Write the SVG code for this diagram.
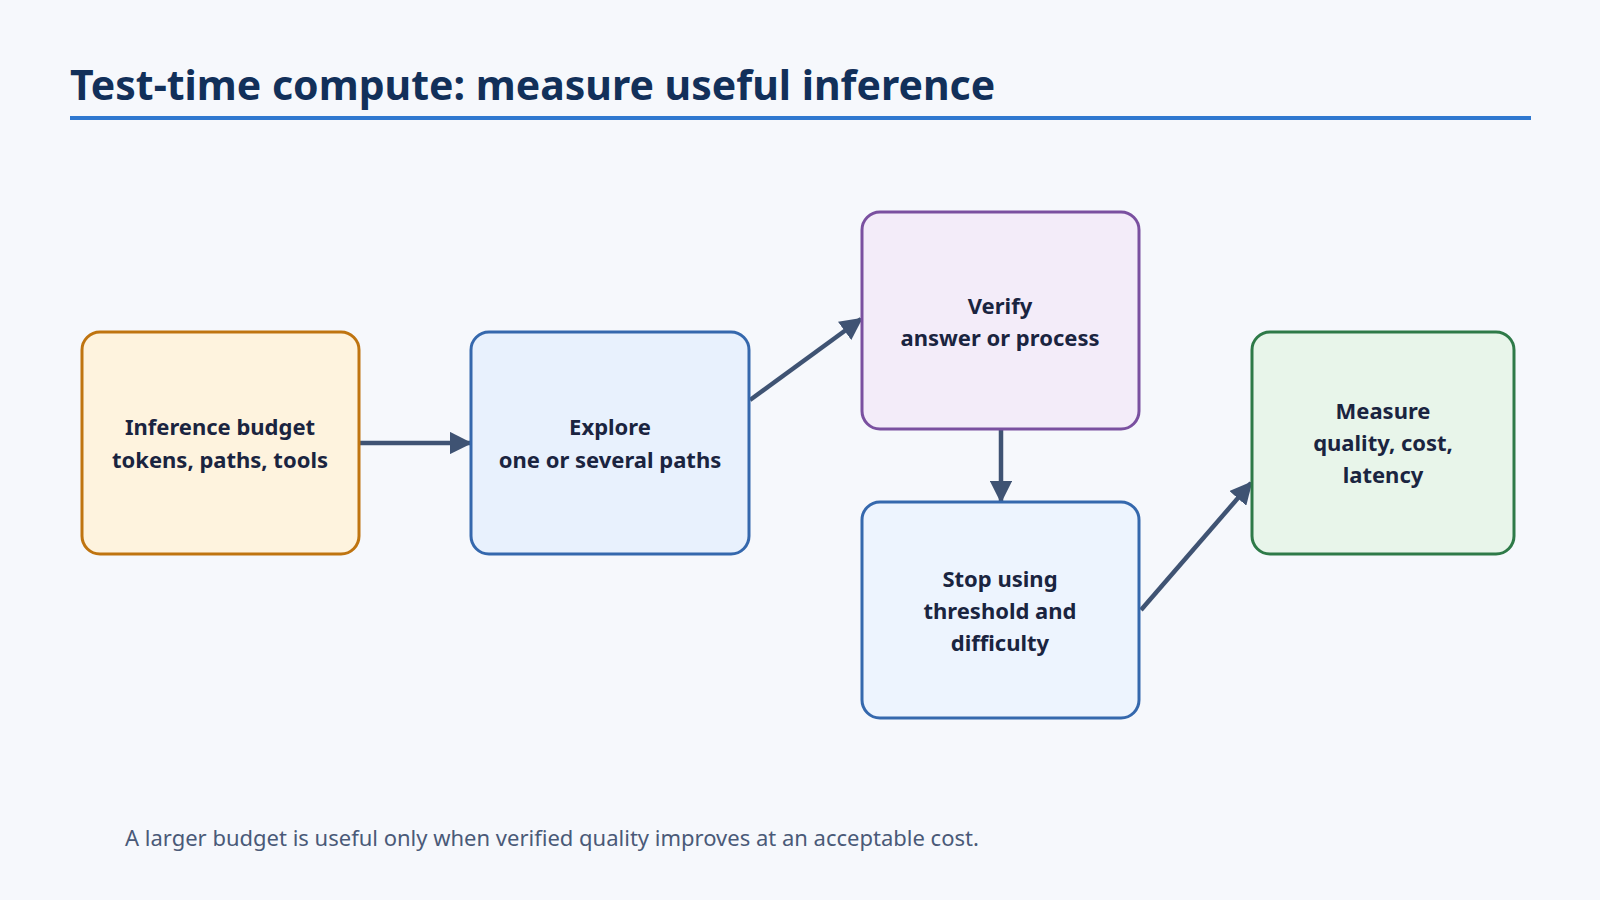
<svg xmlns="http://www.w3.org/2000/svg" width="1600" height="900" viewBox="0 0 1600 900">
<style>
.t{font-family:"Noto Sans","Open Sans",sans-serif;font-weight:bold;font-size:22px;fill:#1a2440;text-anchor:middle}
.box{stroke-width:3}
.c{stroke:#3f5373;stroke-width:4.5;fill:none}
</style>
<defs>
<marker id="ah" viewBox="0 0 10 10" refX="9" refY="5" markerWidth="5" markerHeight="5" markerUnits="strokeWidth" orient="auto"><path d="M0,0L10,5L0,10z" fill="#3f5373"/></marker>
</defs>
<rect width="1600" height="900" fill="#f6f8fc"/>
<text x="70" y="100" font-family="Noto Sans,Open Sans,sans-serif" font-weight="bold" font-size="41" fill="#12305a">Test-time compute: measure useful inference</text>
<rect x="70" y="116" width="1461" height="4" fill="#2f78d0"/>
<g id="connectors">
<line class="c" x1="359" y1="443" x2="470" y2="443" marker-end="url(#ah)"/>
<line class="c" x1="750" y1="400" x2="861" y2="319" marker-end="url(#ah)"/>
<line class="c" x1="1001" y1="429" x2="1001" y2="501" marker-end="url(#ah)"/>
<line class="c" x1="1141" y1="610" x2="1251" y2="483" marker-end="url(#ah)"/>
</g>
<g id="n1"><rect class="box" x="82" y="332" width="277" height="222" rx="18" fill="#fef3de" stroke="#bf7410"/>
<text class="t" x="220" y="435">Inference budget</text><text class="t" x="220" y="468">tokens, paths, tools</text></g>
<g id="n2"><rect class="box" x="471" y="332" width="278" height="222" rx="18" fill="#e8f1fd" stroke="#3568ad"/>
<text class="t" x="610" y="435">Explore</text><text class="t" x="610" y="468">one or several paths</text></g>
<g id="n3"><rect class="box" x="862" y="212" width="277" height="217" rx="18" fill="#f3ecf9" stroke="#7a50a0"/>
<text class="t" x="1000" y="314">Verify</text><text class="t" x="1000" y="346">answer or process</text></g>
<g id="n4"><rect class="box" x="862" y="502" width="277" height="216" rx="18" fill="#edf4fe" stroke="#3568ad"/>
<text class="t" x="1000" y="587">Stop using</text><text class="t" x="1000" y="619">threshold and</text><text class="t" x="1000" y="651">difficulty</text></g>
<g id="n5"><rect class="box" x="1252" y="332" width="262" height="222" rx="18" fill="#e8f5ea" stroke="#2e7a48"/>
<text class="t" x="1383" y="419">Measure</text><text class="t" x="1383" y="451">quality, cost,</text><text class="t" x="1383" y="483">latency</text></g>
<text x="125" y="846" font-family="Noto Sans,Open Sans,sans-serif" font-size="22" fill="#4a5a78">A larger budget is useful only when verified quality improves at an acceptable cost.</text>
</svg>
